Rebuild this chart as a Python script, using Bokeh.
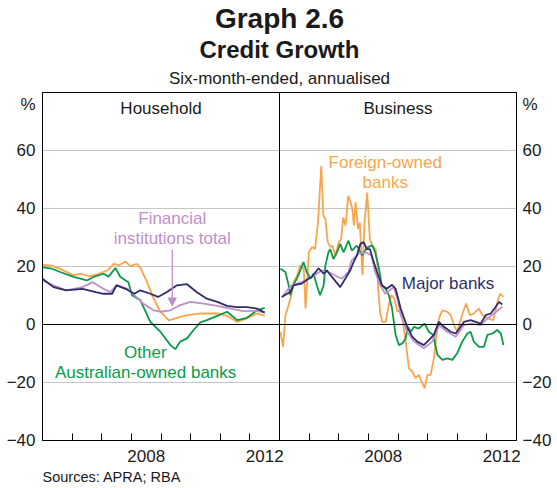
from bokeh.plotting import figure
from bokeh.models import Range1d, LinearAxis, FixedTicker, Span, Label, Arrow, NormalHead, Title
from bokeh.embed import file_html
from bokeh.resources import INLINE

FONT = "Liberation Sans"
NAVY = "#2E2D6C"
PURPLE = "#BF8FCA"
ORANGE = "#F8A54C"
GREEN = "#0B9A4B"

# ---------------- Household ----------------
hh_major_x = [2005.0, 2005.37, 2005.8, 2006.35, 2006.8, 2007.06, 2007.35, 2007.5, 2007.8, 2008.1, 2008.3,
              2008.64, 2008.9, 2009.2, 2009.54, 2009.88, 2010.2, 2010.55, 2010.9, 2011.23, 2011.57, 2011.9,
              2012.24, 2012.5]
hh_major_y = [15.8, 12.9, 11.8, 12.3, 11.2, 10.6, 10.6, 13.5, 12.3, 10.6, 11.8,
              10.6, 9.5, 11.2, 13.5, 13.9, 11.2, 8.9, 7.8, 6.4, 6.0, 6.0,
              5.5, 4.1]

hh_total_x = [2005.0, 2005.37, 2005.8, 2006.35, 2006.7, 2007.06, 2007.3, 2007.5, 2007.87, 2008.1, 2008.4,
              2008.75, 2008.98, 2009.32, 2009.65, 2009.99, 2010.44, 2010.9, 2011.34, 2011.79, 2012.24, 2012.5]
hh_total_y = [15.2, 13.5, 11.8, 12.9, 14.6, 12.3, 11.2, 13.7, 12.3, 10.1, 7.2,
              4.9, 4.4, 4.9, 6.7, 7.8, 7.2, 6.4, 5.5, 4.6, 4.7, 4.1]

hh_foreign_x = [2005.0, 2005.3, 2005.6, 2006.05, 2006.3, 2006.6, 2006.9, 2007.2, 2007.4, 2007.6, 2007.8,
                2007.96, 2008.19, 2008.3, 2008.53, 2008.75, 2008.98, 2009.26, 2009.54, 2009.88, 2010.33,
                2010.9, 2011.23, 2011.57, 2011.9, 2012.24, 2012.5]
hh_foreign_y = [20.6, 20.3, 19.2, 17.0, 17.5, 16.6, 17.5, 18.7, 20.9, 20.5, 21.7,
                20.1, 20.9, 19.6, 14.6, 8.9, 4.4, 1.4, 2.3, 3.2, 3.8,
                3.8, 3.0, 0.9, 2.1, 3.8, 3.0]

hh_other_x = [2005.0, 2005.3, 2005.6, 2006.05, 2006.5, 2006.72, 2007.06, 2007.23, 2007.46, 2007.63, 2007.9,
              2008.02, 2008.3, 2008.64, 2008.98, 2009.32, 2009.48, 2009.65, 2009.88, 2010.1, 2010.33,
              2010.55, 2010.9, 2011.23, 2011.57, 2011.9, 2012.24, 2012.5]
hh_other_y = [19.8, 19.3, 18.1, 16.4, 15.2, 16.4, 17.5, 16.5, 19.5, 16.4, 14.6,
              10.1, 8.4, 0.9, -2.5, -7.1, -8.5, -5.9, -4.8, -1.9, 0.7,
              1.5, 3.0, 4.4, 1.5, 2.3, 4.9, 5.7]

# ---------------- Business ----------------
bz_major_x = [2005.08, 2005.36, 2005.47, 2005.75, 2005.98, 2006.09, 2006.32, 2006.49, 2006.6, 2006.77,
              2007.05, 2007.22, 2007.39, 2007.5, 2007.61, 2007.73, 2007.84, 2007.95, 2008.05, 2008.15,
              2008.29, 2008.46, 2008.62, 2008.8, 2008.92, 2009.09, 2009.31, 2009.48, 2009.65, 2009.87,
              2010.04, 2010.21, 2010.38, 2010.55, 2010.78, 2010.95, 2011.11, 2011.23, 2011.45, 2011.62,
              2011.79, 2011.96, 2012.13, 2012.3, 2012.41, 2012.52]
bz_major_y = [9.5, 11.2, 13.5, 14.1, 15.8, 16.4, 19.4, 17.5, 18.7, 16.4,
              12.9, 15.8, 18.7, 21.5, 23.8, 27.8, 28.4, 26.0, 26.0, 22.6,
              18.1, 13.5, 12.3, 13.7, 12.3, 5.5, -0.8, -4.2, -5.9, -7.1,
              -5.4, -3.6, 0.9, -0.8, -2.5, -3.1, -0.8, 0.9, 1.5, 0.9,
              0.3, 3.2, 3.8, 6.1, 7.8, 6.9]

bz_total_x = [2005.08, 2005.4, 2005.75, 2006.09, 2006.43, 2006.77, 2007.1, 2007.33, 2007.43, 2007.67,
              2007.9, 2008.1, 2008.23, 2008.4, 2008.57, 2008.85, 2009.0, 2009.09, 2009.31, 2009.54,
              2009.87, 2010.16, 2010.38, 2010.66, 2010.95, 2011.23, 2011.45, 2011.79, 2012.02, 2012.24, 2012.52]
bz_total_y = [9.5, 13.5, 14.6, 16.4, 18.7, 17.5, 15.8, 18.1, 22.0, 24.4,
              24.9, 23.8, 18.1, 13.5, 10.6, 12.9, 8.4, 3.2, -2.5, -5.9,
              -8.2, -5.9, -0.2, -2.5, -4.2, -0.2, 0.3, -0.2, 2.1, 3.8, 6.1]

bz_foreign_x = [2005.03, 2005.12, 2005.2, 2005.31, 2005.4, 2005.48, 2005.6, 2005.7, 2005.82, 2005.88,
                2005.99, 2006.1, 2006.2, 2006.3, 2006.41, 2006.48, 2006.55, 2006.63, 2006.72, 2006.78,
                2006.89, 2007.0, 2007.08, 2007.15, 2007.23, 2007.32, 2007.4, 2007.46, 2007.51, 2007.57,
                2007.65, 2007.71, 2007.8, 2007.87, 2007.96, 2008.05, 2008.13, 2008.24, 2008.3, 2008.33,
                2008.4, 2008.47, 2008.58, 2008.69, 2008.77, 2008.88, 2008.98, 2009.06, 2009.15, 2009.26,
                2009.37, 2009.48, 2009.59, 2009.7, 2009.82, 2009.9, 2009.99, 2010.1, 2010.21, 2010.3,
                2010.38, 2010.5, 2010.66, 2010.78, 2010.89, 2011.0, 2011.11, 2011.2, 2011.3, 2011.43,
                2011.56, 2011.73, 2011.85, 2012.02, 2012.22, 2012.33, 2012.44, 2012.56]
bz_foreign_y = [-2.5, -7.7, 3.2, 6.7, 10.1, 14.6, 17.0, 20.4, 19.2, 5.5,
                24.9, 26.7, 26.0, 35.2, 54.7, 37.5, 36.4, 28.4, 26.7, 27.2,
                23.8, 28.4, 29.5, 36.9, 34.1, 44.4, 42.1, 39.8, 34.1, 42.1,
                32.9, 35.2, 17.0, 35.2, 45.5, 29.5, 27.2, 26.0, 21.5, 12.3,
                4.0, 0.9, 0.9, 6.7, 10.1, 8.9, 4.4, 4.9, 2.1, -5.9,
                -15.1, -16.2, -18.5, -17.4, -20.2, -22.0, -17.4, -17.4, -11.7, -3.6,
                2.1, 4.9, 4.4, 3.2, -0.2, -2.5, 1.5, 4.4, 7.2, 3.2,
                3.8, 5.5, 3.2, 2.1, 1.5, 6.7, 10.6, 9.5]

bz_other_x = [2005.03, 2005.2, 2005.31, 2005.36, 2005.47, 2005.64, 2005.81, 2005.92, 2006.04, 2006.15,
              2006.26, 2006.37, 2006.49, 2006.55, 2006.65, 2006.71, 2006.82, 2006.94, 2007.05, 2007.16,
              2007.33, 2007.44, 2007.61, 2007.79, 2007.95, 2008.13, 2008.23, 2008.36, 2008.45, 2008.58,
              2008.69, 2008.8, 2008.92, 2009.03, 2009.15, 2009.26, 2009.33, 2009.43, 2009.54, 2009.7,
              2009.9, 2010.04, 2010.19, 2010.33, 2010.5, 2010.66, 2010.83, 2011.0, 2011.17, 2011.34,
              2011.45, 2011.56, 2011.73, 2011.9, 2012.02, 2012.19, 2012.35, 2012.47, 2012.56]
bz_other_y = [19.2, 18.1, 13.5, 10.1, 13.5, 17.0, 21.5, 18.1, 15.8, 17.5,
              13.5, 10.1, 13.5, 20.4, 24.9, 26.0, 22.6, 24.9, 27.8, 24.9,
              28.9, 25.5, 27.2, 23.9, 26.5, 27.3, 24.9, 19.2, 13.5, 12.3,
              10.1, 5.5, -3.6, -7.1, -6.5, -4.8, -0.8, -2.5, -0.8, -1.4,
              0.3, -2.5, -3.6, -10.5, -12.2, -11.7, -12.2, -9.9, -5.9, -3.1,
              -2.5, -5.9, -7.7, -7.7, -3.6, -3.1, -1.9, -3.1, -7.1]

# axis ticks / labels
y_ticks = [-40, -20, 0, 20, 40, 60]
grid_ticks = [-20, 20, 40, 60]
year_ticks = [2006, 2007, 2008, 2009, 2010, 2011, 2012]
year_labels = {2008.5: "2008", 2012.5: "2012"}

p = figure(width=557, height=488, x_range=Range1d(2005, 2021), y_range=Range1d(-40, 80),
           output_backend="svg", toolbar_location=None,
           min_border_left=42, min_border_right=41, min_border_top=90, min_border_bottom=48)
try:
    p.title = None
except Exception:
    p.title.visible = False
p.extra_x_ranges = {"biz": Range1d(1997, 2013)}
p.background_fill_color = "white"
p.border_fill_color = "white"
p.outline_line_color = "black"
p.outline_line_width = 1
p.outline_line_alpha = 1

# grid
p.xgrid.visible = False
p.ygrid.ticker = FixedTicker(ticks=grid_ticks)
p.ygrid.grid_line_color = "#C6C6C6"
p.ygrid.grid_line_width = 1

# y axes
pct_pos = 76
yt = FixedTicker(ticks=y_ticks + [pct_pos], minor_ticks=[])
overrides = {pct_pos: "%"}
right_axis = LinearAxis()
p.add_layout(right_axis, "right")
for ax, standoff in ((p.yaxis[0], 7), (right_axis, 6)):
    ax.ticker = yt
    ax.major_label_overrides = overrides
    ax.major_tick_in = 0
    ax.major_tick_out = 0
    ax.minor_tick_in = 0
    ax.minor_tick_out = 0
    ax.axis_line_color = "black"
    ax.major_label_text_font = FONT
    ax.major_label_text_font_size = "17px"
    ax.major_label_text_color = "#1a1a1a"
    ax.major_label_standoff = standoff

# x axis
label_pos = list(year_labels.keys()) + [k + 8 for k in year_labels.keys()]
label_over = dict(year_labels)
label_over.update({k + 8: v for k, v in year_labels.items()})
xa = p.xaxis[0]
xa.ticker = FixedTicker(ticks=label_pos, minor_ticks=year_ticks + [t + 8 for t in year_ticks])
xa.major_label_overrides = label_over
xa.major_tick_in = 0
xa.major_tick_out = 0
xa.minor_tick_in = 7
xa.minor_tick_out = 0
xa.minor_tick_line_color = "black"
xa.axis_line_color = "black"
xa.major_label_text_font = FONT
xa.major_label_text_font_size = "17px"
xa.major_label_text_color = "#1a1a1a"
xa.major_label_standoff = 9

# reference lines
p.add_layout(Span(location=0, dimension="width", line_color="black", line_width=1))
p.add_layout(Span(location=2013, dimension="height", line_color="black", line_width=1))

LW = 1.8
# household
p.line(hh_foreign_x, hh_foreign_y, line_color=ORANGE, line_width=LW)
p.line(hh_other_x, hh_other_y, line_color=GREEN, line_width=LW)
p.line(hh_total_x, hh_total_y, line_color=PURPLE, line_width=LW)
p.line(hh_major_x, hh_major_y, line_color=NAVY, line_width=LW)
# business
p.line(bz_foreign_x, bz_foreign_y, line_color=ORANGE, line_width=LW, x_range_name="biz")
p.line(bz_other_x, bz_other_y, line_color=GREEN, line_width=LW, x_range_name="biz")
p.line(bz_total_x, bz_total_y, line_color=PURPLE, line_width=LW, x_range_name="biz")
p.line(bz_major_x, bz_major_y, line_color=NAVY, line_width=LW, x_range_name="biz")


def lab(text, x, y, color="#1a1a1a", size="17px", rng="default"):
    p.add_layout(Label(x=x, y=y, text=text, text_color=color, text_font=FONT,
                       text_font_size=size, text_align="center",
                       text_baseline="middle", x_range_name=rng))


# titles (stacked outward from the frame)
for text, size, style, standoff in (("Six-month-ended, annualised", "17px", "normal", 9),
                                    ("Credit Growth", "24px", "bold", 0),
                                    ("Graph 2.6", "28px", "bold", 0)):
    p.add_layout(Title(text=text, align="center", text_font=FONT, text_font_size=size,
                       text_font_style=style, text_color="#1a1a1a", standoff=standoff), "above")

# panel titles
lab("Household", 2009.0, 74.6)
lab("Business", 2009.0, 74.6, rng="biz")

# series labels
lab("Financial", 2009.38, 36.6, color=PURPLE)
lab("institutions total", 2009.38, 29.7, color=PURPLE)
lab("Other", 2008.47, -9.8, color=GREEN)
lab("Australian-owned banks", 2008.48, -16.7, color=GREEN)
lab("Foreign-owned", 2008.57, 55.7, color=ORANGE, rng="biz")
lab("banks", 2008.57, 48.8, color=ORANGE, rng="biz")
lab("Major banks", 2010.69, 14.2, color=NAVY, rng="biz")

p.add_layout(Arrow(end=NormalHead(size=8, fill_color=PURPLE, line_color=PURPLE),
                   x_start=2009.38, y_start=25.8, x_end=2009.38, y_end=6.4,
                   line_color=PURPLE, line_width=1.3))

# sources
p.add_layout(Title(text="Sources: APRA; RBA", align="left", text_font=FONT, text_font_size="14.5px",
                   text_font_style="normal", text_color="#1a1a1a", standoff=4), "below")

open("out.html", "w").write(file_html(p, INLINE))
